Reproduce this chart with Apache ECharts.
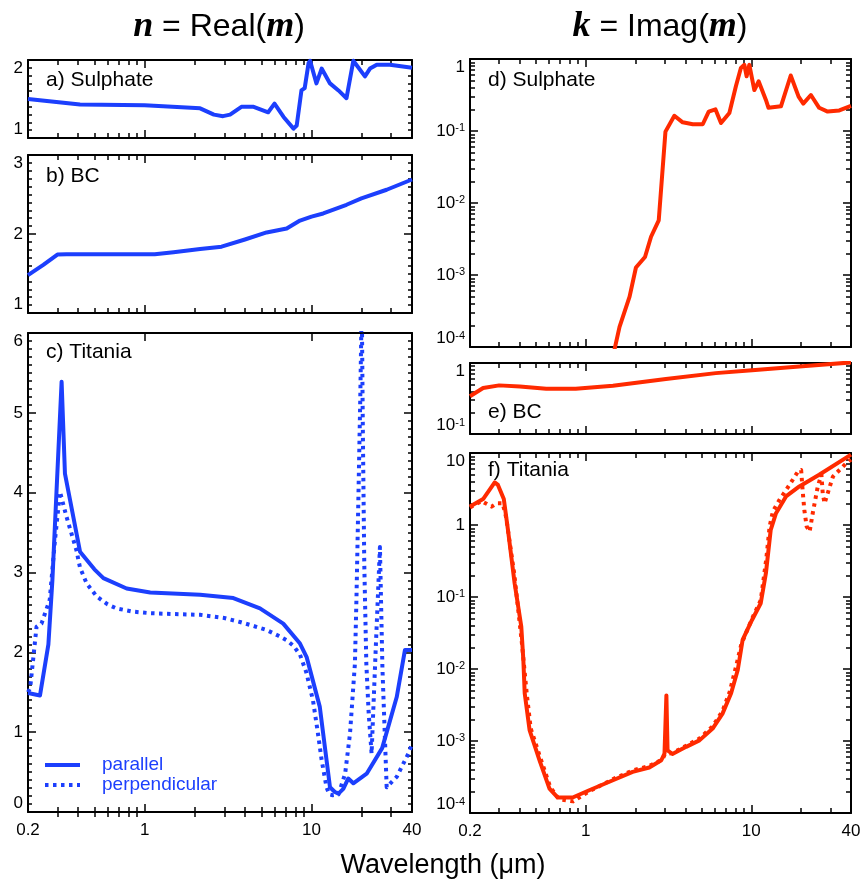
<!DOCTYPE html>
<html><head><meta charset="utf-8">
<script src="https://cdn.jsdelivr.net/npm/echarts@6/dist/echarts.min.js"></script>
<style>html,body{margin:0;padding:0;background:#fff}#c{width:866px;height:884px}</style>
</head><body><div id="c"></div>
<script>
// ---------- data (wavelength in micrometres, value) ----------
const xTickLabels = [0.2, 1, 10, 40];
const xMajorTicks = [1, 10];
const xMinorTicks = [0.3,0.4,0.5,0.6,0.7,0.8,0.9,2,3,4,5,6,7,8,9,20,30];

const sulphateReal = [[0.2,1.50],[0.41,1.43],[1.0,1.42],[2.15,1.38],[2.6,1.30],[2.95,1.28],[3.25,1.30],[3.8,1.40],[4.5,1.40],[5.5,1.33],[6.0,1.44],[6.8,1.27],[7.8,1.12],[8.15,1.16],[8.7,1.61],[9.1,1.64],[9.6,1.96],[9.8,1.99],[10.7,1.70],[11.5,1.89],[12.9,1.70],[14.5,1.61],[16.2,1.51],[17.8,1.99],[20.9,1.79],[22.4,1.89],[24.6,1.94],[29.5,1.94],[40,1.90]];

const bcReal = [[0.2,1.48],[0.247,1.61],[0.30,1.74],[0.34,1.745],[1.15,1.745],[1.49,1.77],[2.15,1.81],[2.89,1.84],[3.99,1.93],[5.38,2.02],[7.1,2.07],[8.53,2.17],[10.0,2.22],[11.75,2.26],[16.2,2.37],[19.9,2.45],[28.2,2.56],[40,2.69]];

const titaniaRealPar = [[0.2,1.49],[0.236,1.46],[0.265,2.1],[0.28,2.9],[0.318,5.39],[0.333,4.24],[0.41,3.26],[0.5,3.04],[0.566,2.93],[0.78,2.80],[1.08,2.75],[2.15,2.72],[3.40,2.68],[4.91,2.55],[6.77,2.36],[8.53,2.11],[9.35,1.94],[11.2,1.32],[12.3,0.65],[12.9,0.31],[13.8,0.25],[14.5,0.23],[15.5,0.29],[16.6,0.42],[17.8,0.36],[21.4,0.48],[26.5,0.80],[32.4,1.44],[36.3,2.03],[40,2.03]];

const titaniaRealPerp = [[0.2,1.5],[0.206,1.55],[0.225,2.32],[0.241,2.36],[0.27,2.66],[0.29,3.4],[0.311,4.01],[0.34,3.7],[0.39,3.28],[0.41,3.06],[0.45,2.86],[0.516,2.70],[0.6,2.6],[0.68,2.55],[0.85,2.51],[1.08,2.49],[1.5,2.48],[2.15,2.47],[3.0,2.43],[3.73,2.38],[4.5,2.33],[5.38,2.28],[6.3,2.21],[7.1,2.15],[7.8,2.08],[8.53,1.97],[9.3,1.75],[10.2,1.40],[10.9,1.0],[11.5,0.65],[12.3,0.31],[12.8,0.22],[13.4,0.21],[14.5,0.22],[15.9,0.48],[17.0,0.98],[18.2,1.86],[18.6,2.70],[19.1,3.95],[19.6,5.2],[20.0,6.4],[20.3,4.79],[20.7,3.12],[21.3,1.86],[22.0,1.24],[22.9,0.73],[24.2,2.0],[25.7,3.32],[26.6,1.8],[28.2,0.31],[32.4,0.44],[38,0.73],[40,0.85]];

const sulphateImag = [[1.48,8.5e-5],[1.60,1.9e-4],[1.84,5.0e-4],[2.01,1.27e-3],[2.28,1.78e-3],[2.48,3.4e-3],[2.76,5.75e-3],[3.03,0.098],[3.43,0.163],[3.85,0.132],[4.43,0.124],[5.09,0.124],[5.53,0.186],[6.07,0.20],[6.56,0.129],[7.37,0.178],[8.07,0.417],[8.65,0.75],[9.08,0.83],[9.37,0.575],[9.73,0.83],[10.43,0.37],[11.07,0.49],[12.25,0.27],[12.7,0.21],[15.1,0.22],[17.3,0.59],[19.3,0.30],[20.6,0.24],[22.9,0.316],[25.7,0.21],[28.9,0.186],[34.0,0.193],[40,0.224]];

const bcImag = [[0.2,0.34],[0.24,0.445],[0.30,0.484],[0.40,0.468],[0.577,0.435],[0.87,0.435],[1.46,0.479],[3.05,0.595],[6.1,0.72],[10.1,0.79],[19.5,0.895],[40,1.02]];

const titaniaImagPar = [[0.2,1.81],[0.24,2.29],[0.282,3.9],[0.295,3.6],[0.32,2.29],[0.339,0.857],[0.372,0.155],[0.408,0.039],[0.42,0.0133],[0.428,0.0046],[0.458,0.00142],[0.526,5.4e-4],[0.604,2.18e-4],[0.678,1.64e-4],[0.834,1.64e-4],[1.05,2.07e-4],[1.46,2.85e-4],[1.92,3.72e-4],[2.42,4.28e-4],[2.86,5.4e-4],[2.99,6.7e-4],[3.07,4.3e-3],[3.12,7.4e-4],[3.34,6.6e-4],[4.04,8.3e-4],[4.86,1.02e-3],[5.84,1.49e-3],[6.7,2.4e-3],[7.55,4.6e-3],[8.28,9.7e-3],[8.86,0.0253],[10.1,0.048],[11.4,0.0818],[12.25,0.214],[13.1,0.857],[14.1,1.46],[16.2,2.49],[19.5,3.43],[25.7,4.99],[40,9.5]];

const titaniaImagPerp = [[0.2,1.75],[0.235,2.15],[0.27,1.8],[0.29,2.0],[0.315,2.0],[0.33,1.3],[0.37,0.21],[0.41,0.025],[0.44,0.0046],[0.465,0.0015],[0.535,5.6e-4],[0.61,2.3e-4],[0.69,1.55e-4],[0.84,1.45e-4],[1.05,2.0e-4],[1.46,2.95e-4],[1.92,3.9e-4],[2.42,4.5e-4],[2.9,5.5e-4],[3.0,6.5e-4],[3.34,6.8e-4],[4.04,8.6e-4],[4.86,1.08e-3],[5.84,1.6e-3],[6.7,2.6e-3],[7.4,4.8e-3],[8.1,0.011],[8.7,0.022],[10.1,0.05],[11.4,0.09],[12.3,0.33],[12.9,0.95],[13.5,1.55],[14.8,2.24],[17.0,3.6],[19.1,5.5],[20.0,5.8],[20.4,3.08],[20.9,1.62],[21.6,0.95],[22.5,0.81],[23.5,1.46],[25.2,3.43],[26.5,5.0],[27.0,2.75],[27.7,2.0],[31.1,4.7],[37.4,7.2],[40,8.1]];

const kMajors4 = [1e-4,1e-3,1e-2,1e-1,1];
const kMajorsBC = [0.1,1];
const kMajors5 = [1e-4,1e-3,1e-2,1e-1,1,10];

// ---------- styling ----------
const BLUE = '#1c3ffd', RED = '#ff2a00';
const FONT = "'Liberation Sans', Arial, Helvetica, sans-serif";
const SERIF = "'Liberation Serif', 'Times New Roman', serif";
const tickStyle = {color:'#000', width:1.5};
const frameStyle = {color:'#000', width:2};

function minorsFor(majors){
  const out=[];
  for(let i=0;i<majors.length-1;i++){ for(let k=2;k<=9;k++) out.push(+(majors[i]*k).toPrecision(3)); }
  return out;
}

const grids = [
  {left:28, top:60, width:384, height:78},
  {left:28, top:155, width:384, height:158},
  {left:28, top:333, width:384, height:479},
  {left:470, top:59, width:381, height:288},
  {left:470, top:363, width:381, height:71},
  {left:470, top:453, width:381, height:360}
];

const xAxis=[], yAxis=[];
function fmtX(v){ return String(parseFloat(Number(v).toPrecision(4))); }
function fmtLog(v){
  const e=Math.round(Math.log10(v));
  if(e===0) return '1';
  if(e===1) return '10';
  return '10{sup|'+e+'}';
}
function addX(gi, showLabels){
  const idx=xAxis.length;
  const base={type:'log',logBase:10,min:0.2,max:40,gridIndex:gi,splitLine:{show:false},minorSplitLine:{show:false}};
  ['bottom','top'].forEach(pos=>{
    xAxis.push(Object.assign({},base,{position:pos,
      axisLine:{show:true,onZero:false,lineStyle:frameStyle},
      axisTick:{show:true,inside:true,length:8,customValues:xMajorTicks,lineStyle:tickStyle},
      axisLabel:{show:pos==='bottom'&&showLabels,customValues:xTickLabels,formatter:fmtX,margin:10,fontSize:17,color:'#000',fontFamily:FONT}}));
    xAxis.push(Object.assign({},base,{position:pos,
      axisLine:{show:false},
      axisTick:{show:true,inside:true,length:5,customValues:xMinorTicks,lineStyle:tickStyle},
      axisLabel:{show:false}}));
  });
  return idx;
}
function addYLin(gi,min,max,minorN){
  const idx=yAxis.length;
  ['left','right'].forEach(pos=>{
    yAxis.push({type:'value',gridIndex:gi,min,max,interval:1,position:pos,
      splitLine:{show:false},minorSplitLine:{show:false},
      axisLine:{show:true,onZero:false,lineStyle:frameStyle},
      axisTick:{show:true,inside:true,length:8,lineStyle:tickStyle},
      minorTick:{show:true,splitNumber:minorN,length:4,lineStyle:tickStyle},
      axisLabel:{show:pos==='left',margin:5,fontSize:17,color:'#000',fontFamily:FONT,
        verticalAlignMinLabel:'bottom',verticalAlignMaxLabel:'top'}});
  });
  return idx;
}
function addYLog(gi,majors){
  const idx=yAxis.length;
  const min=majors[0], max=majors[majors.length-1];
  const minors=minorsFor(majors);
  ['left','right'].forEach(pos=>{
    yAxis.push({type:'log',logBase:10,gridIndex:gi,min,max,position:pos,
      splitLine:{show:false},
      axisLine:{show:true,onZero:false,lineStyle:frameStyle},
      axisTick:{show:true,inside:true,length:8,customValues:majors,lineStyle:tickStyle},
      axisLabel:{show:pos==='left',customValues:majors,formatter:fmtLog,margin:5,fontSize:17,color:'#000',fontFamily:FONT,
        verticalAlignMinLabel:'bottom',verticalAlignMaxLabel:'top',
        rich:{sup:{fontSize:11,fontFamily:FONT,color:'#000',verticalAlign:'top'}}}});
    yAxis.push({type:'log',logBase:10,gridIndex:gi,min,max,position:pos,
      splitLine:{show:false},
      axisLine:{show:false},
      axisTick:{show:true,inside:true,length:5,customValues:minors,lineStyle:tickStyle},
      axisLabel:{show:false}});
  });
  return idx;
}

const xa = addX(0,false), ya = addYLin(0,1,2,10);
const xb = addX(1,false), yb = addYLin(1,1,3,10);
const xc = addX(2,true),  yc = addYLin(2,0,6,10);
const xd = addX(3,false), yd = addYLog(3,kMajors4);
const xe = addX(4,false), ye = addYLog(4,kMajorsBC);
const xf = addX(5,true),  yf = addYLog(5,kMajors5);

function line(name,data,xi,yi,color,dotted){
  return {type:'line',name,data,xAxisIndex:xi,yAxisIndex:yi,symbol:'none',showSymbol:false,clip:true,
    animation:false,silent:true,
    lineStyle:{color,width:4,type:dotted?[3.5,4.5]:'solid',cap:'butt',join:'round'},
    itemStyle:{color}};
}

const series = [
  line('sulphate n',sulphateReal,xa,ya,BLUE,false),
  line('bc n',bcReal,xb,yb,BLUE,false),
  line('perpendicular',titaniaRealPerp,xc,yc,BLUE,true),
  line('parallel',titaniaRealPar,xc,yc,BLUE,false),
  line('sulphate k',sulphateImag,xd,yd,RED,false),
  line('bc k',bcImag,xe,ye,RED,false),
  line('titania k perp',titaniaImagPerp,xf,yf,RED,true),
  line('titania k par',titaniaImagPar,xf,yf,RED,false)
];

const panelText = (t,x,y)=>({type:'text',x,y,style:{text:t,fontSize:21,fontFamily:FONT,fill:'#000',align:'left',verticalAlign:'middle'}});

const option = {
  animation:false,
  backgroundColor:'#fff',
  grid: grids,
  xAxis, yAxis, series,
  legend:{data:['parallel','perpendicular'],orient:'vertical',left:38,top:750,itemWidth:35,itemHeight:14,itemGap:0,
    selectedMode:false,
    itemStyle:{opacity:0,borderWidth:0},
    lineStyle:{width:4},
    textStyle:{color:BLUE,fontSize:19,lineHeight:20,fontFamily:FONT,padding:[0,0,0,17]}},
  graphic:[
    {type:'text',x:219,y:27,style:{text:'{i|n} = Real({i|m})',fontSize:32,fontFamily:FONT,fill:'#000',align:'center',verticalAlign:'middle',
      rich:{i:{fontFamily:SERIF,fontStyle:'italic',fontWeight:'bold',fontSize:36,fill:'#000'}}}},
    {type:'text',x:660,y:27,style:{text:'{i|k} = Imag({i|m})',fontSize:32,fontFamily:FONT,fill:'#000',align:'center',verticalAlign:'middle',
      rich:{i:{fontFamily:SERIF,fontStyle:'italic',fontWeight:'bold',fontSize:36,fill:'#000'}}}},
    {type:'text',x:443,y:866,style:{text:'Wavelength (\u03bcm)',fontSize:27,fontFamily:FONT,fill:'#000',align:'center',verticalAlign:'middle'}},
    panelText('a) Sulphate',46,80),
    panelText('b) BC',46,176),
    panelText('c) Titania',46,352),
    panelText('d) Sulphate',488,80),
    panelText('e) BC',488,412),
    panelText('f) Titania',488,470)
  ]
};

const chart = echarts.init(document.getElementById('c'),null,{renderer:'canvas'});
chart.setOption(option);
</script>
</body></html>
